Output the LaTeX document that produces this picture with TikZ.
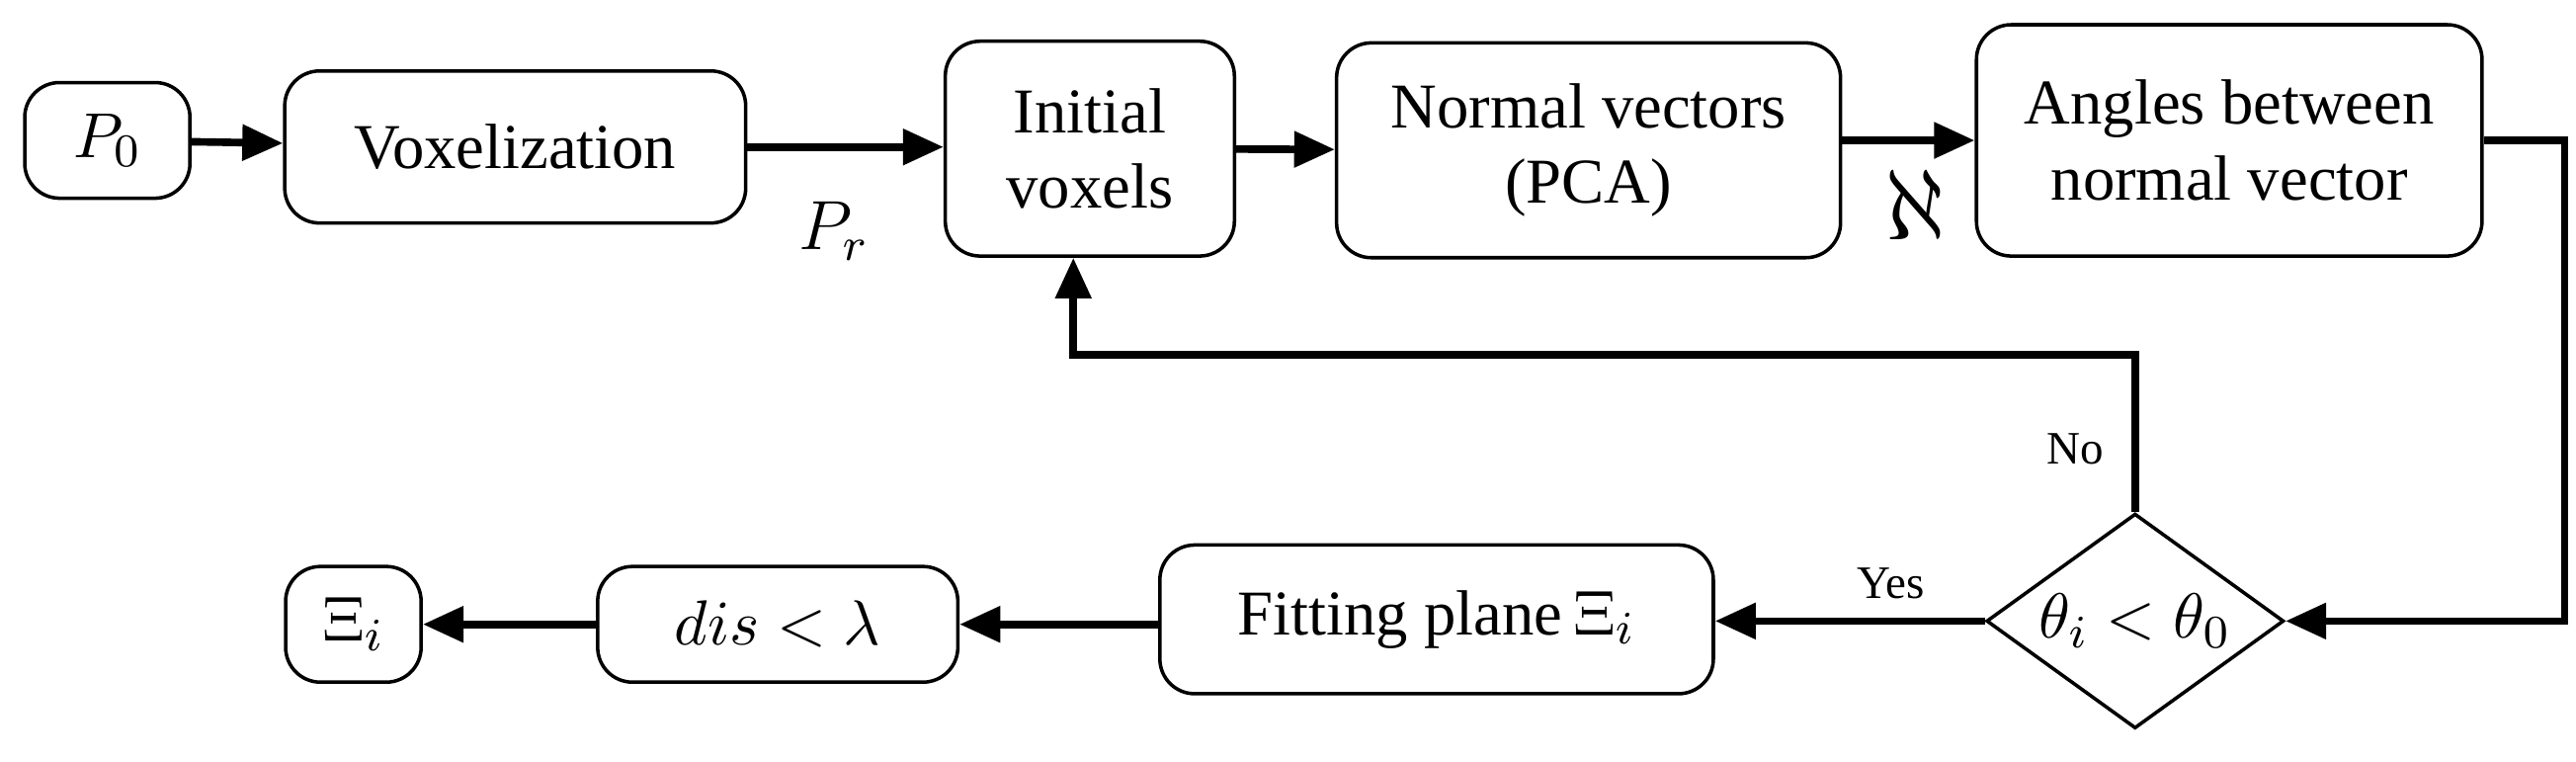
\documentclass[tikz,border=0pt]{standalone}
\usepackage{fontspec}
\setmainfont{Liberation Serif}
\usetikzlibrary{shapes.geometric,arrows.meta}
\begin{document}
\begin{tikzpicture}[x=0.01cm,y=-0.01cm,
  box/.style={draw,line width=0.6pt,rounded corners=6pt,align=center,font=\fontsize{11}{13}\selectfont,inner sep=0pt},
  arr/.style={line width=1.3pt,-{Triangle[length=7pt,width=6pt]}},
  lbl/.style={font=\fontsize{8}{10}\selectfont}]
\useasboundingbox (0,0) rectangle (1560,461);
\node[box,minimum width=1cm,minimum height=0.7cm] (p0) at (65,85) {$P_{0}$};
\node[box,minimum width=2.79cm,minimum height=0.92cm] (vox) at (312,89) {Voxelization};
\node[box,minimum width=1.75cm,minimum height=1.3cm] (init) at (660,90) {Initial\\voxels};
\node[box,minimum width=3.05cm,minimum height=1.3cm] (norm) at (962,91) {Normal vectors\\(PCA)};
\node[box,minimum width=3.06cm,minimum height=1.4cm] (ang) at (1350,85) {Angles between\\normal vector};
\node[draw,line width=0.6pt,diamond,aspect=1.4,minimum width=1.8cm,minimum height=1.3cm,inner sep=0pt,font=\fontsize{11}{13}\selectfont] (dec) at (1293,376) {$\theta_i<\theta_0$};
\node[box,minimum width=3.35cm,minimum height=0.9cm] (fit) at (870,375) {Fitting plane$\,\Xi_i$};
\node[box,minimum width=2.18cm,minimum height=0.7cm] (dis) at (471,378) {$dis<\lambda$};
\node[box,minimum width=0.82cm,minimum height=0.7cm] (xi) at (214,378) {$\Xi_i$};
\coordinate (c1) at (1553,85);
\coordinate (c2) at (1553,376);
\coordinate (c3) at (1293,215);
\coordinate (c4) at (650,215);
\draw[arr] (p0) -- (vox);
\draw[arr] (vox.east) -- (init.west |- vox.east);
\draw[arr] (init) -- (norm);
\draw[arr] (norm.east |- ang.east) -- (ang.east -| ang.west);
\draw[arr] (ang.east) -- (c1) -- (c2) -- (dec.east);
\draw[arr] (dec.west) -- (fit.east |- dec.west);
\draw[arr] (fit.west |- dis.east) -- (dis.east);
\draw[arr] (dis) -- (xi);
\draw[arr] (dec.north) -- (c3) -- (c4) -- (init.south -| c4);
\node[lbl] (no) at (1257,272) {No};
\node[lbl] (yes) at (1145,353) {Yes};
\node[font=\fontsize{12}{14}\selectfont] (pr) at (505,140) {$P_r$};
\node[font=\fontsize{16}{18}\selectfont] (al) at (1160,124) {$\aleph$};
\end{tikzpicture}
\end{document}
